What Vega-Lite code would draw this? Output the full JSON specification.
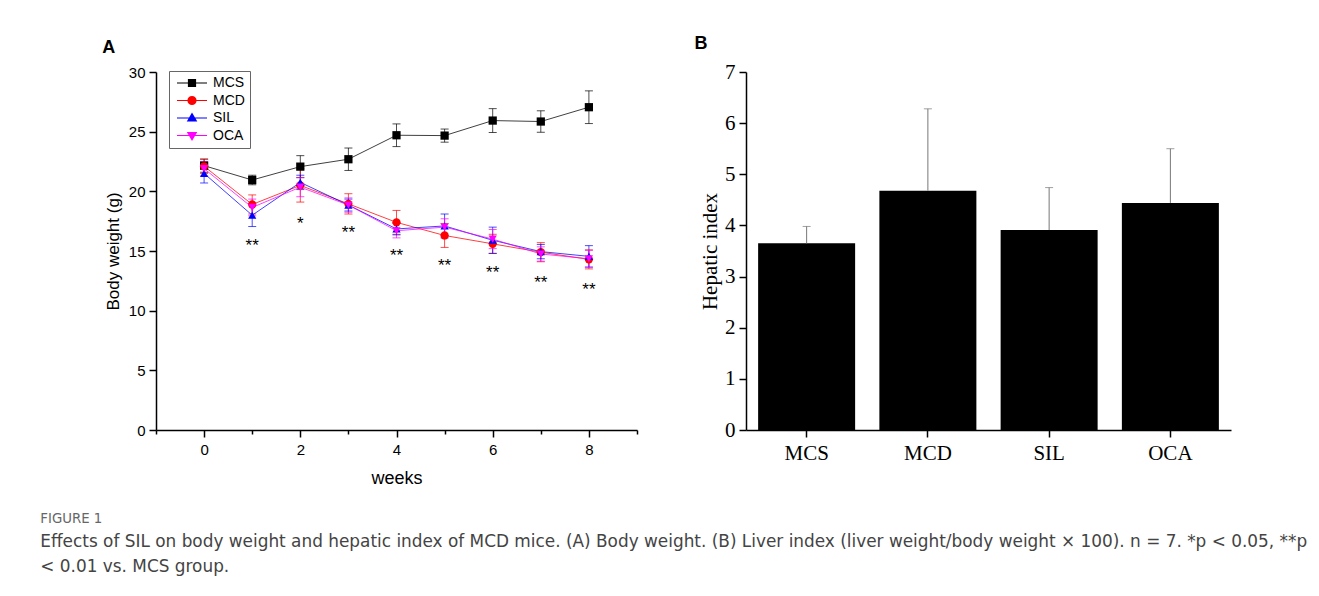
{
  "$schema": "https://vega.github.io/schema/vega-lite/v6.json",
  "padding": {"left": 40, "top": 35, "right": 5, "bottom": 5},
  "background": "#ffffff",
  "config": {
    "view": {"stroke": null},
    "font": "Liberation Sans",
    "axis": {"grid": false, "domainColor": "#000000", "tickColor": "#000000", "labelColor": "#000000", "titleColor": "#000000", "domainWidth": 1.5, "tickWidth": 1.5}
  },
  "title": {
    "text": "FIGURE 1",
    "subtitle": ["Effects of SIL on body weight and hepatic index of MCD mice. (A) Body weight. (B) Liver index (liver weight/body weight × 100). n = 7. *p < 0.05, **p", "< 0.01 vs. MCS group."],
    "orient": "bottom",
    "anchor": "start",
    "frame": "bounds",
    "dx": -62,
    "offset": 25,
    "font": "DejaVu Sans",
    "fontSize": 13.3,
    "fontWeight": "normal",
    "color": "#666666",
    "subtitleFont": "DejaVu Sans",
    "subtitleFontSize": 16.9,
    "subtitleColor": "#444444",
    "subtitlePadding": 9,
    "subtitleLineHeight": 24.5
  },
  "datasets": {
    "bw": [
      {"group": "MCS", "week": 0, "mean": 22.15, "lo": 21.6, "hi": 22.7},
      {"group": "MCS", "week": 1, "mean": 20.95, "lo": 20.55, "hi": 21.35},
      {"group": "MCS", "week": 2, "mean": 22.07, "lo": 21.15, "hi": 22.99},
      {"group": "MCS", "week": 3, "mean": 22.69, "lo": 21.75, "hi": 23.63},
      {"group": "MCS", "week": 4, "mean": 24.7, "lo": 23.75, "hi": 25.65},
      {"group": "MCS", "week": 5, "mean": 24.67, "lo": 24.12, "hi": 25.22},
      {"group": "MCS", "week": 6, "mean": 25.93, "lo": 24.93, "hi": 26.93},
      {"group": "MCS", "week": 7, "mean": 25.85, "lo": 24.95, "hi": 26.75},
      {"group": "MCS", "week": 8, "mean": 27.05, "lo": 25.68, "hi": 28.42},
      {"group": "MCD", "week": 0, "mean": 22.1, "lo": 21.5, "hi": 22.7},
      {"group": "MCD", "week": 1, "mean": 18.9, "lo": 18.1, "hi": 19.7},
      {"group": "MCD", "week": 2, "mean": 20.5, "lo": 19.1, "hi": 21.9},
      {"group": "MCD", "week": 3, "mean": 18.95, "lo": 18.1, "hi": 19.8},
      {"group": "MCD", "week": 4, "mean": 17.4, "lo": 16.4, "hi": 18.4},
      {"group": "MCD", "week": 5, "mean": 16.3, "lo": 15.3, "hi": 17.3},
      {"group": "MCD", "week": 6, "mean": 15.6, "lo": 14.8, "hi": 16.4},
      {"group": "MCD", "week": 7, "mean": 14.9, "lo": 14.1, "hi": 15.7},
      {"group": "MCD", "week": 8, "mean": 14.3, "lo": 13.5, "hi": 15.1},
      {"group": "SIL", "week": 0, "mean": 21.5, "lo": 20.7, "hi": 22.3},
      {"group": "SIL", "week": 1, "mean": 18.0, "lo": 17.05, "hi": 18.95},
      {"group": "SIL", "week": 2, "mean": 20.75, "lo": 20.15, "hi": 21.35},
      {"group": "SIL", "week": 3, "mean": 18.85, "lo": 18.35, "hi": 19.35},
      {"group": "SIL", "week": 4, "mean": 16.85, "lo": 16.35, "hi": 17.35},
      {"group": "SIL", "week": 5, "mean": 17.1, "lo": 16.1, "hi": 18.1},
      {"group": "SIL", "week": 6, "mean": 15.9, "lo": 14.8, "hi": 17.0},
      {"group": "SIL", "week": 7, "mean": 14.95, "lo": 14.35, "hi": 15.55},
      {"group": "SIL", "week": 8, "mean": 14.55, "lo": 13.65, "hi": 15.45},
      {"group": "OCA", "week": 0, "mean": 21.9, "lo": 21.3, "hi": 22.5},
      {"group": "OCA", "week": 1, "mean": 18.65, "lo": 17.95, "hi": 19.35},
      {"group": "OCA", "week": 2, "mean": 20.35, "lo": 19.55, "hi": 21.15},
      {"group": "OCA", "week": 3, "mean": 18.85, "lo": 18.25, "hi": 19.45},
      {"group": "OCA", "week": 4, "mean": 16.7, "lo": 16.1, "hi": 17.3},
      {"group": "OCA", "week": 5, "mean": 17.0, "lo": 16.3, "hi": 17.7},
      {"group": "OCA", "week": 6, "mean": 16.0, "lo": 15.2, "hi": 16.8},
      {"group": "OCA", "week": 7, "mean": 14.75, "lo": 14.15, "hi": 15.35},
      {"group": "OCA", "week": 8, "mean": 14.35, "lo": 13.65, "hi": 15.05}
    ],
    "stars": [
      {"week": 1, "y": 15.82, "label": "**"},
      {"week": 2, "y": 17.69, "label": "*"},
      {"week": 3, "y": 16.9, "label": "**"},
      {"week": 4, "y": 15.03, "label": "**"},
      {"week": 5, "y": 14.19, "label": "**"},
      {"week": 6, "y": 13.55, "label": "**"},
      {"week": 7, "y": 12.72, "label": "**"},
      {"week": 8, "y": 12.18, "label": "**"}
    ],
    "hep": [
      {"group": "MCS", "mean": 3.65, "upper": 3.98},
      {"group": "MCD", "mean": 4.68, "upper": 6.28},
      {"group": "SIL", "mean": 3.91, "upper": 4.74},
      {"group": "OCA", "mean": 4.44, "upper": 5.5}
    ]
  },
  "spacing": 56,
  "hconcat": [
    {
      "width": 481,
      "height": 358,
      "title": {"text": "A", "anchor": "start", "frame": "bounds", "font": "Liberation Sans", "fontSize": 18, "fontWeight": "bold", "color": "#000000", "offset": 8, "dx": -2},
      "data": {"name": "bw"},
      "encoding": {
        "x": {
          "field": "week", "type": "quantitative", "title": "weeks",
          "scale": {"domain": [-1, 9], "nice": false, "zero": false},
          "axis": {
            "values": [-1, 0, 1, 2, 3, 4, 5, 6, 7, 8, 9],
            "labelExpr": "(datum.value % 2 === 0 && datum.value >= 0 && datum.value <= 8) ? datum.label : ''",
            "tickSize": {"condition": {"test": "datum.value % 2 !== 0", "value": 4}, "value": 7},
            "labelFontSize": 15, "labelPadding": 5,
            "titleFontSize": 18, "titleFontWeight": "normal", "titlePadding": 12
          }
        }
      },
      "layer": [
        {
          "mark": {"type": "rule", "strokeWidth": 1, "opacity": 0.7},
          "encoding": {
            "y": {"field": "lo", "type": "quantitative", "title": "Body weight (g)", "scale": {"domain": [0, 30], "nice": false},
              "axis": {
                "values": [0, 2.5, 5, 7.5, 10, 12.5, 15, 17.5, 20, 22.5, 25, 27.5, 30],
                "labelExpr": "datum.value % 5 === 0 ? datum.label : ''",
                "tickSize": {"condition": {"test": "datum.value % 5 !== 0", "value": 4}, "value": 7},
                "labelFontSize": 15, "labelPadding": 4,
                "titleFontSize": 17, "titleFontWeight": "normal", "titlePadding": 6
              }},
            "y2": {"field": "hi"},
            "color": {"field": "group", "type": "nominal", "scale": {"domain": ["MCS", "MCD", "SIL", "OCA"], "range": ["#000000", "#ff0000", "#0000ff", "#ff00ff"]}, "legend": null}
          }
        },
        {
          "mark": {"type": "tick", "orient": "horizontal", "size": 8, "thickness": 1, "opacity": 0.7},
          "encoding": {
            "y": {"field": "lo", "type": "quantitative", "title": "Body weight (g)"},
            "color": {"field": "group", "type": "nominal", "scale": {"domain": ["MCS", "MCD", "SIL", "OCA"], "range": ["#000000", "#ff0000", "#0000ff", "#ff00ff"]}, "legend": null}
          }
        },
        {
          "mark": {"type": "tick", "orient": "horizontal", "size": 8, "thickness": 1, "opacity": 0.7},
          "encoding": {
            "y": {"field": "hi", "type": "quantitative", "title": "Body weight (g)"},
            "color": {"field": "group", "type": "nominal", "scale": {"domain": ["MCS", "MCD", "SIL", "OCA"], "range": ["#000000", "#ff0000", "#0000ff", "#ff00ff"]}, "legend": null}
          }
        },
        {
          "mark": {"type": "line", "strokeWidth": 1, "opacity": 0.75},
          "encoding": {
            "y": {"field": "mean", "type": "quantitative", "title": "Body weight (g)"},
            "color": {"field": "group", "type": "nominal", "scale": {"domain": ["MCS", "MCD", "SIL", "OCA"], "range": ["#000000", "#ff0000", "#0000ff", "#ff00ff"]}, "legend": null}
          }
        },
        {
          "mark": {"type": "point", "filled": true, "size": 68, "opacity": 1},
          "encoding": {
            "y": {"field": "mean", "type": "quantitative", "title": "Body weight (g)"},
            "color": {"field": "group", "type": "nominal", "scale": {"domain": ["MCS", "MCD", "SIL", "OCA"], "range": ["#000000", "#ff0000", "#0000ff", "#ff00ff"]}, "legend": null},
            "shape": {"field": "group", "type": "nominal", "scale": {"domain": ["MCS", "MCD", "SIL", "OCA"], "range": ["square", "circle", "triangle-up", "triangle-down"]}, "legend": null}
          }
        },
        {
          "mark": {"type": "point", "filled": false, "size": 0, "opacity": 1},
          "encoding": {
            "y": {"field": "mean", "type": "quantitative", "title": "Body weight (g)"},
            "color": {"field": "group", "type": "nominal", "scale": {"domain": ["MCS", "MCD", "SIL", "OCA"], "range": ["#000000", "#ff0000", "#0000ff", "#ff00ff"]},
              "legend": {"title": null, "orient": "none", "legendX": 13, "legendY": -1, "strokeColor": "#666666", "padding": 5, "symbolSize": 100, "symbolStrokeWidth": 1.2, "symbolStrokeColor": "#000000", "symbolOffset": 11, "labelOffset": 14, "labelFontSize": 14, "labelFont": "Liberation Sans", "labelColor": "#000000", "rowPadding": 3.5}},
            "shape": {"field": "group", "type": "nominal", "scale": {"domain": ["MCS", "MCD", "SIL", "OCA"], "range": [
                "M-3,0H3M-0.7,-0.7H0.7V0.7H-0.7ZM-0.7,-0.5H0.7M-0.7,-0.3H0.7M-0.7,-0.1H0.7M-0.7,0.1H0.7M-0.7,0.3H0.7M-0.7,0.5H0.7",
                "M-3,0H3M-0.8,0A0.8,0.8 0 1,0 0.8,0A0.8,0.8 0 1,0 -0.8,0M-0.39,-0.7H0.39M-0.62,-0.5H0.62M-0.74,-0.3H0.74M-0.79,-0.1H0.79M-0.79,0.1H0.79M-0.74,0.3H0.74M-0.62,0.5H0.62M-0.39,0.7H0.39",
                "M-3,0H3M-0.85,0.6L0,-0.85L0.85,0.6ZM-0.09,-0.7H0.09M-0.21,-0.5H0.21M-0.32,-0.3H0.32M-0.44,-0.1H0.44M-0.56,0.1H0.56M-0.67,0.3H0.67M-0.79,0.5H0.79",
                "M-3,0H3M-0.85,-0.6L0,0.85L0.85,-0.6ZM-0.09,0.7H0.09M-0.21,0.5H0.21M-0.32,0.3H0.32M-0.44,0.1H0.44M-0.56,-0.1H0.56M-0.67,-0.3H0.67M-0.79,-0.5H0.79"
              ]},
              "legend": {"title": null, "orient": "none", "legendX": 13, "legendY": -1, "strokeColor": "#666666", "padding": 5, "symbolSize": 100, "symbolStrokeWidth": 1.2, "symbolStrokeColor": "#000000", "symbolOffset": 11, "labelOffset": 14, "labelFontSize": 14, "labelFont": "Liberation Sans", "labelColor": "#000000", "rowPadding": 3.5}}
          }
        },
        {
          "data": {"name": "stars"},
          "mark": {"type": "text", "font": "Liberation Sans", "fontSize": 17, "color": "#000000", "baseline": "middle", "dy": 5},
          "encoding": {
            "y": {"field": "y", "type": "quantitative", "title": "Body weight (g)"},
            "text": {"field": "label"}
          }
        }
      ],
      "resolve": {"scale": {"shape": "independent", "color": "independent"}}
    },
    {
      "width": 485,
      "height": 358,
      "title": {"text": "B", "anchor": "start", "frame": "bounds", "font": "Liberation Sans", "fontSize": 18, "fontWeight": "bold", "color": "#000000", "offset": 8, "dx": -5},
      "data": {"name": "hep"},
      "encoding": {
        "x": {"field": "group", "type": "nominal", "sort": null, "title": null,
          "scale": {"paddingInner": 0.2, "paddingOuter": 0.1},
          "axis": {"labelAngle": 0, "labelFont": "Liberation Serif", "labelFontSize": 21, "tickSize": 7, "labelPadding": 5}}
      },
      "layer": [
        {
          "mark": {"type": "bar", "color": "#000000"},
          "encoding": {
            "y": {"field": "mean", "type": "quantitative", "title": "Hepatic index", "scale": {"domain": [0, 7], "nice": false},
              "axis": {
                "values": [0, 0.5, 1, 1.5, 2, 2.5, 3, 3.5, 4, 4.5, 5, 5.5, 6, 6.5, 7],
                "labelExpr": "datum.value % 1 === 0 ? datum.label : ''",
                "tickSize": {"condition": {"test": "datum.value % 1 !== 0", "value": 4}, "value": 7},
                "labelFont": "Liberation Serif", "labelFontSize": 21, "labelPadding": 4,
                "titleFont": "Liberation Serif", "titleFontSize": 21, "titleFontWeight": "normal", "titlePadding": 4
              }}
          }
        },
        {
          "mark": {"type": "rule", "color": "#777777", "strokeWidth": 1},
          "encoding": {
            "y": {"field": "mean", "type": "quantitative", "title": "Hepatic index"},
            "y2": {"field": "upper"}
          }
        },
        {
          "mark": {"type": "tick", "orient": "horizontal", "color": "#777777", "size": 8, "thickness": 1},
          "encoding": {
            "y": {"field": "upper", "type": "quantitative", "title": "Hepatic index"}
          }
        }
      ]
    }
  ]
}
